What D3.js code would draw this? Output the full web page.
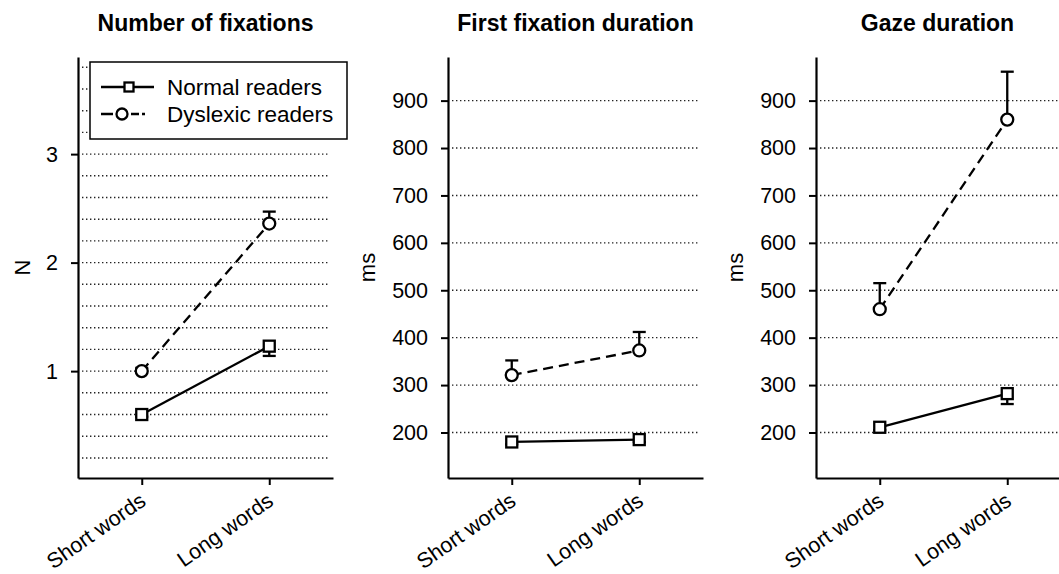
<!DOCTYPE html>
<html>
<head>
<meta charset="utf-8">
<script src="https://cdn.jsdelivr.net/npm/d3@7"></script>
<style>
  body { margin: 0; background: #fff; }
  text { font-family: "Liberation Sans", Arial, sans-serif; fill: #000; }
</style>
</head>
<body>
<svg width="1059" height="574"></svg>
<script>
// data
const categories = ["Short words", "Long words"];
const titles     = ["Number of fixations", "First fixation duration", "Gaze duration"];
const yLabels    = ["N", "ms", "ms"];

const fixNormal       = [0.60, 1.23];
const fixNormalErr    = [0.02, 0.09];
const fixDyslexic     = [1.00, 2.36];
const fixDyslexicErr  = [0.03, 0.11];

const ffdNormal       = [180, 185];
const ffdNormalErr    = [5, 5];
const ffdDyslexic     = [321, 373];
const ffdDyslexicErr  = [31, 39];

const gazeNormal      = [211, 282];
const gazeNormalErr   = [6, 22];
const gazeDyslexic    = [460, 860];
const gazeDyslexicErr = [55, 101];

const fixTicks = [1, 2, 3];
const fixGrid  = [0.2, 0.4, 0.6, 0.8, 1, 1.2, 1.4, 1.6, 1.8, 2, 2.2, 2.4, 2.6, 2.8, 3, 3.2, 3.4, 3.6, 3.8];
const msTicks  = [200, 300, 400, 500, 600, 700, 800, 900];

const panels = [
  { axisX: 78,  domain: [0.015, 3.895], ticks: fixTicks, grid: fixGrid, labelDx: 56, titleDx: 0,
    normal: fixNormal, normalErr: fixNormalErr, dys: fixDyslexic, dysErr: fixDyslexicErr },
  { axisX: 448, domain: [104, 992], ticks: msTicks, grid: msTicks, labelDx: 81, titleDx: 0,
    normal: ffdNormal, normalErr: ffdNormalErr, dys: ffdDyslexic, dysErr: ffdDyslexicErr },
  { axisX: 816, domain: [104, 992], ticks: msTicks, grid: msTicks, labelDx: 81, titleDx: -6,
    normal: gazeNormal, normalErr: gazeNormalErr, dys: gazeDyslexic, dysErr: gazeDyslexicErr }
];

const svg     = d3.select("svg");
const plotTop = 57;
const plotBot = 478;
const axisW   = 255;
const sw      = 2.3;

function drawMarker(g, shape, cx, cy, s) {
  if (shape === "square") {
    g.append("rect")
      .attr("x", cx - s).attr("y", cy - s)
      .attr("width", 2 * s).attr("height", 2 * s)
      .attr("fill", "#fff").attr("stroke", "#000").attr("stroke-width", sw);
  } else {
    g.append("circle")
      .attr("cx", cx).attr("cy", cy).attr("r", s)
      .attr("fill", "#fff").attr("stroke", "#000").attr("stroke-width", sw);
  }
}

panels.forEach((p, i) => {
  const g = svg.append("g");

  const x = d3.scalePoint().domain(categories).range([p.axisX, p.axisX + axisW]).padding(0.5);
  const y = d3.scaleLinear().domain(p.domain).range([plotBot, plotTop]);

  // dotted grid
  g.selectAll(".grid").data(p.grid).join("line")
    .attr("x1", p.axisX + 4).attr("x2", p.axisX + axisW - 3)
    .attr("y1", d => y(d)).attr("y2", d => y(d))
    .attr("stroke", "#222").attr("stroke-width", 1.4)
    .attr("stroke-dasharray", "1.4,2.6");

  // axes
  const yAxis = g.append("g")
    .attr("transform", `translate(${p.axisX},0)`)
    .call(d3.axisLeft(y).tickValues(p.ticks).tickSize(7).tickSizeOuter(0).tickPadding(13).tickFormat(d3.format("d")));

  const xAxis = g.append("g")
    .attr("transform", `translate(0,${plotBot})`)
    .call(d3.axisBottom(x).tickSize(7).tickSizeOuter(0));

  [yAxis, xAxis].forEach(a => {
    a.select(".domain").attr("stroke", "#000").attr("stroke-width", 2.2);
    a.selectAll(".tick line").attr("stroke", "#000").attr("stroke-width", 2);
    a.selectAll("text").attr("font-size", 21.5).attr("fill", "#000")
      .style("font-family", '"Liberation Sans", Arial, sans-serif');
  });

  xAxis.selectAll(".tick text")
    .attr("x", 0).attr("y", 0).attr("dy", null)
    .attr("text-anchor", "end")
    .attr("transform", "translate(5,26) rotate(-35)");

  // title and y label
  g.append("text")
    .attr("x", (x(categories[0]) + x(categories[1])) / 2 + p.titleDx)
    .attr("y", 31)
    .attr("text-anchor", "middle")
    .attr("font-size", 23).attr("font-weight", "bold")
    .text(titles[i]);

  g.append("text")
    .attr("transform", `translate(${p.axisX - p.labelDx},${(plotTop + plotBot) / 2}) rotate(-90)`)
    .attr("text-anchor", "middle")
    .attr("dy", "0.35em")
    .attr("font-size", 22)
    .text(yLabels[i]);

  // legend (first panel only)
  if (i === 0) {
    const lg = g.append("g");
    lg.append("rect")
      .attr("x", 90).attr("y", 62).attr("width", 257).attr("height", 77)
      .attr("fill", "#fff").attr("stroke", "#000").attr("stroke-width", 1.5);
    lg.append("line").attr("x1", 101).attr("x2", 154).attr("y1", 87).attr("y2", 87)
      .attr("stroke", "#000").attr("stroke-width", sw);
    drawMarker(lg, "square", 129, 87, 4.5);
    lg.append("line").attr("x1", 101).attr("x2", 145).attr("y1", 114).attr("y2", 114)
      .attr("stroke", "#000").attr("stroke-width", sw)
      .attr("stroke-dasharray", "12,18,8,3,3");
    drawMarker(lg, "circle", 122, 114, 5.5);
    lg.append("text").attr("x", 167).attr("y", 87).attr("dy", "0.36em")
      .attr("font-size", 22.5).text("Normal readers");
    lg.append("text").attr("x", 167).attr("y", 114).attr("dy", "0.36em")
      .attr("font-size", 22.5).text("Dyslexic readers");
  }

  const line = d3.line().x((d, j) => x(categories[j])).y(d => y(d));

  const series = [
    { vals: p.dys,    err: p.dysErr,    dir: 1,  shape: "circle", dash: "10,6" },
    { vals: p.normal, err: p.normalErr, dir: -1, shape: "square", dash: null }
  ];

  series.forEach(s => {
    g.append("path")
      .attr("d", line(s.vals))
      .attr("fill", "none").attr("stroke", "#000").attr("stroke-width", sw)
      .attr("stroke-dasharray", s.dash);

    s.vals.forEach((v, j) => {
      const cx = x(categories[j]);
      const ey = y(v + s.dir * s.err[j]);
      g.append("line").attr("x1", cx).attr("x2", cx).attr("y1", y(v)).attr("y2", ey)
        .attr("stroke", "#000").attr("stroke-width", sw);
      g.append("line").attr("x1", cx - 6.5).attr("x2", cx + 6.5).attr("y1", ey).attr("y2", ey)
        .attr("stroke", "#000").attr("stroke-width", sw);
    });

    s.vals.forEach((v, j) => {
      drawMarker(g, s.shape, x(categories[j]), y(v), s.shape === "square" ? 5.5 : 6);
    });
  });
});
</script>
</body>
</html>
